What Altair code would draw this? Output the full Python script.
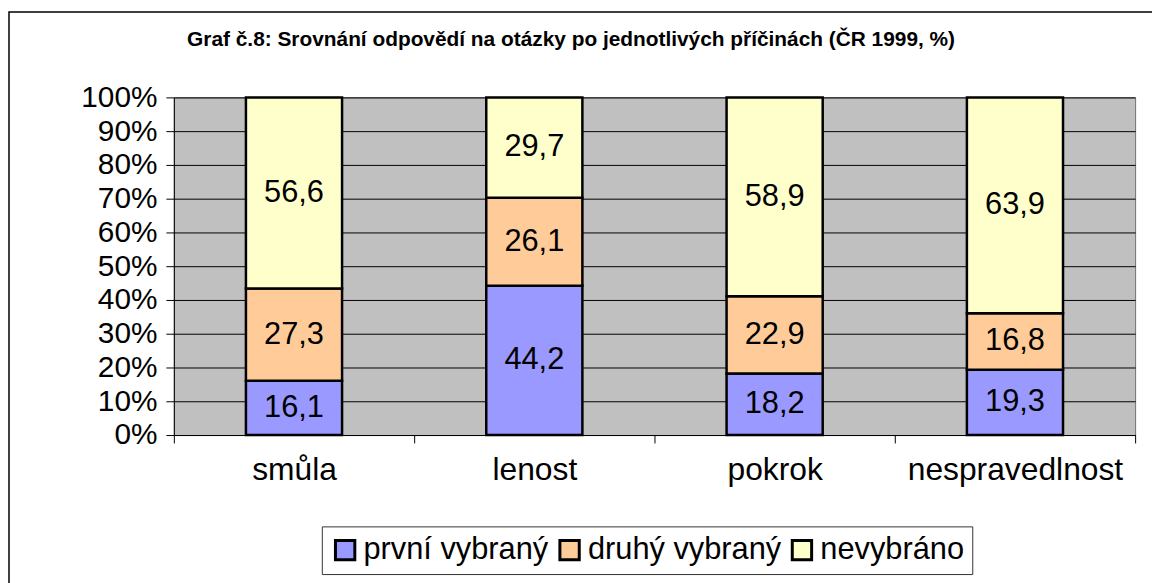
import altair as alt
import pandas as pd

categories = ["smůla", "lenost", "pokrok", "nespravedlnost"]
series = ["první vybraný", "druhý vybraný", "nevybráno"]
prvni = [16.1, 44.2, 18.2, 19.3]
druhy = [27.3, 26.1, 22.9, 16.8]
nevybrano = [56.6, 29.7, 58.9, 63.9]
colors = ["#9999FF", "#FFCC99", "#FFFFCC"]
title_text = "Graf č.8: Srovnání odpovědí na otázky po jednotlivých příčinách (ČR 1999, %)"

rows = []
for i, c in enumerate(categories):
    for j, (s, vals) in enumerate(zip(series, [prvni, druhy, nevybrano])):
        rows.append({"kat": c, "serie": s, "hodnota": vals[i], "poradi": j})
df = pd.DataFrame(rows)

FONT = "Liberation Sans"
W, H = 968, 340

base = alt.Chart(df).transform_stack(
    stack="hodnota", as_=["y0", "y1"], groupby=["kat"],
    sort=[alt.SortField("poradi", order="ascending")]
).transform_calculate(
    mid="(datum.y0 + datum.y1) / 2",
    lab="replace(format(datum.hodnota, '.1f'), '.', ',')"
)

xaxis = alt.Axis(labelAngle=0, labelFontSize=32, labelFont=FONT, labelColor="black",
                 labelLimit=0, tickBand="extent", tickSize=8, tickColor="black",
                 domainColor="black", labelPadding=12, grid=False)
yaxis = alt.Axis(values=list(range(0, 101, 10)), labelExpr="datum.value + '%'",
                 labelFontSize=30, labelFont=FONT, labelColor="black",
                 labelOverlap=False, labelBound=False, labelFlush=False,
                 tickSize=8, tickColor="black", domainColor="black", labelPadding=9,
                 gridColor="black", gridWidth=1, gridOpacity=1)
xscale = alt.Scale(paddingInner=0, paddingOuter=0)
yscale = alt.Scale(domain=[0, 100], nice=False)

bars = base.mark_bar(stroke="black", strokeWidth=2.5, width=alt.RelativeBandSize(0.4)).encode(
    x=alt.X("kat:N", sort=categories, title=None, scale=xscale, axis=xaxis),
    y=alt.Y("y0:Q", title=None, scale=yscale, axis=yaxis),
    y2="y1:Q",
    color=alt.Color("serie:N", sort=series,
                    scale=alt.Scale(domain=series, range=colors),
                    legend=alt.Legend(title=None, orient="none", direction="horizontal",
                                      legendX=149, legendY=432, symbolType="square",
                                      symbolSize=380, symbolStrokeColor="black",
                                      symbolStrokeWidth=3, labelFontSize=31, labelFont=FONT,
                                      labelColor="black", labelLimit=0, columnPadding=4,
                                      labelOffset=3, symbolOffset=0,
                                      strokeColor="#333333", fillColor="white",
                                      padding=8)),
)

texts = base.mark_text(fontSize=31, font=FONT, color="black").encode(
    x=alt.X("kat:N", sort=categories, title=None, scale=xscale, axis=xaxis),
    y=alt.Y("mid:Q", title=None, scale=yscale, axis=yaxis),
    text="lab:N",
)

single = alt.Data(values=[{"t": title_text}])

frame = alt.Chart(single).mark_rect(
    fill=None, stroke="black", strokeWidth=1.5, clip=False
).encode(x=alt.value(-166), x2=alt.value(1200), y=alt.value(-86), y2=alt.value(600))

title = alt.Chart(single).mark_text(
    font=FONT, fontSize=21, fontWeight="bold", color="black",
    align="center", baseline="alphabetic"
).encode(x=alt.value(400), y=alt.value(-52), text="t:N")

chart = alt.layer(frame, bars, texts, title).properties(
    width=W, height=H,
    background="white",
    autosize=alt.AutoSizeParams(type="none"),
    padding={"left": 167, "top": 88, "right": 17, "bottom": 147},
).configure_view(fill="#C0C0C0", stroke="#707070")

chart.save("out.html", embed_options={"renderer": "svg", "actions": False})
